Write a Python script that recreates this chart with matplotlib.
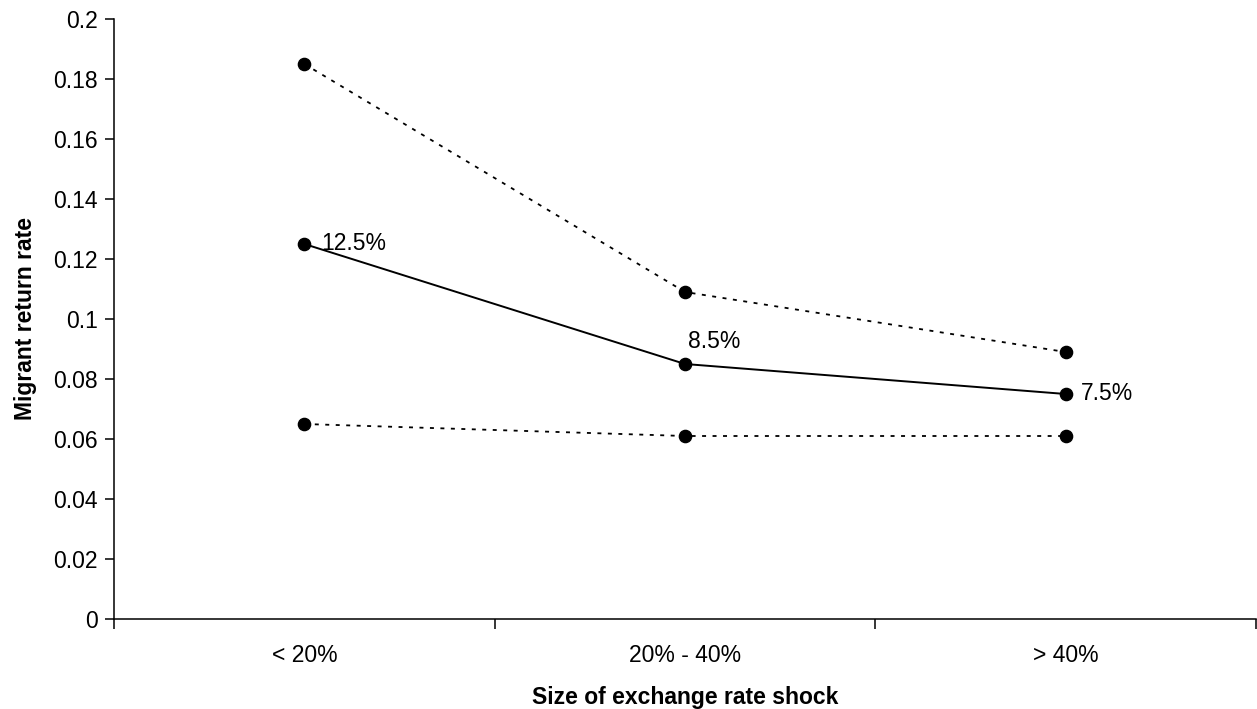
import matplotlib
matplotlib.use("Agg")
import matplotlib.pyplot as plt
from matplotlib.ticker import FixedLocator, NullFormatter

plt.rcParams['font.family'] = ['Liberation Sans', 'DejaVu Sans']

categories = ["< 20%", "20% - 40%", "> 40%"]
upper = [0.185, 0.109, 0.089]
central = [0.125, 0.085, 0.075]
lower = [0.065, 0.061, 0.061]
central_labels = ["12.5%", "8.5%", "7.5%"]
yticks = [0, 0.02, 0.04, 0.06, 0.08, 0.1, 0.12, 0.14, 0.16, 0.18, 0.2]
ytick_labels = ["0", "0.02", "0.04", "0.06", "0.08", "0.1", "0.12", "0.14", "0.16", "0.18", "0.2"]

W, H = 1257, 709
fig = plt.figure(figsize=(W / 100, H / 100), dpi=100)
ax = fig.add_axes([114 / W, 1 - 619 / H, (1256 - 114) / W, 600 / H])

x = list(range(len(categories)))
dot = dict(marker='o', markersize=8.8, color='black', markeredgecolor='black')
ax.plot(x, upper, linestyle=(0, (2.2, 3.6)), linewidth=1.3, **dot)
ax.plot(x, lower, linestyle=(0, (2.2, 3.6)), linewidth=1.3, **dot)
ax.plot(x, central, linestyle='-', linewidth=1.4, **dot)

fs = 16.5
offsets = [(12, 0), (2, 16.5), (11, 0)]
for xi, yi, lab, (dx, dy) in zip(x, central, central_labels, offsets):
    ax.annotate(lab, (xi, yi), xytext=(dx, dy), textcoords='offset points',
                ha='left', va='center', fontsize=fs)

ax.set_xlim(-0.5, 2.5)
ax.set_ylim(0, 0.2)
ax.set_yticks(yticks)
ax.set_yticklabels(ytick_labels, fontsize=fs)

ax.xaxis.set_major_locator(FixedLocator([-0.5, 0.5, 1.5, 2.5]))
ax.xaxis.set_major_formatter(NullFormatter())
ax.xaxis.set_minor_locator(FixedLocator(x))
ax.set_xticklabels(categories, minor=True, fontsize=fs)
ax.tick_params(axis='x', which='minor', length=0, pad=18)
ax.tick_params(axis='x', which='major', length=7, width=1.1, direction='out')
ax.tick_params(axis='y', length=6.5, width=1.1, direction='out', pad=5)

for s in ['top', 'right']:
    ax.spines[s].set_visible(False)
for s in ['left', 'bottom']:
    ax.spines[s].set_linewidth(1.1)

ax.set_xlabel("Size of exchange rate shock", fontsize=fs, fontweight='bold', labelpad=14)
ax.set_ylabel("Migrant return rate", fontsize=fs, fontweight='bold', labelpad=12)

fig.savefig("out.png", dpi=100)
